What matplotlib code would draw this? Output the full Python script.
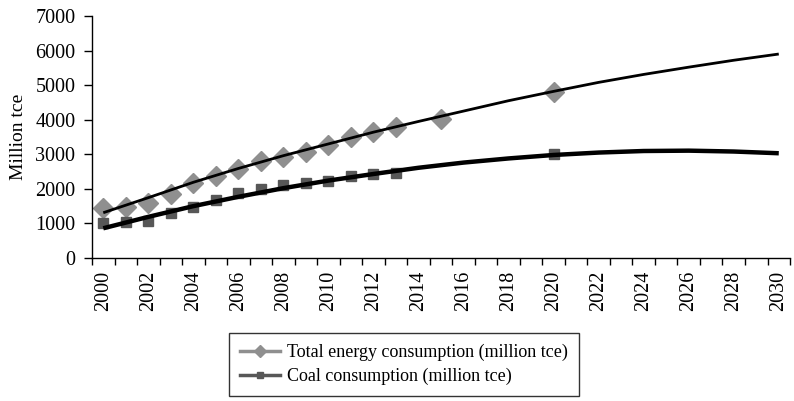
import numpy as np
import matplotlib
matplotlib.use("Agg")
import matplotlib.pyplot as plt
from matplotlib.lines import Line2D

plt.rcParams['font.family'] = ['Liberation Serif', 'DejaVu Serif']

# categories on the x axis
years = list(range(2000, 2031))

# observed points
total_years = [2000, 2001, 2002, 2003, 2004, 2005, 2006, 2007, 2008, 2009,
               2010, 2011, 2012, 2013, 2015, 2020]
total_vals = [1455, 1484, 1582, 1842, 2160, 2381, 2575, 2806, 2930, 3075,
              3269, 3510, 3655, 3780, 4012, 4811]

coal_years = [2000, 2001, 2002, 2003, 2004, 2005, 2006, 2007, 2008, 2009,
              2010, 2011, 2012, 2013, 2020]
coal_vals = [1003, 1032, 1080, 1293, 1466, 1678, 1871, 1996, 2103, 2179,
             2227, 2381, 2421, 2450, 3000]

# trend lines (every two years)
trend_years = list(range(2000, 2031, 2))
total_trend = [1310, 1745, 2190, 2590, 2960, 3300, 3640, 3950,
               4250, 4550, 4820, 5080, 5310, 5520, 5720, 5900]
coal_trend = [860, 1190, 1500, 1770, 2020, 2240, 2430, 2610,
              2760, 2880, 2980, 3050, 3095, 3105, 3080, 3030]

yticks = [0, 1000, 2000, 3000, 4000, 5000, 6000, 7000]

light = '#8f8f8f'
dark = '#575757'

def pos(ys):
    return [years.index(y) for y in ys]

fig = plt.figure(figsize=(7.94, 4.01), dpi=100)
ax = fig.add_axes([0.1159, 0.3566, 0.8791, 0.6035])

ax.plot(pos(total_years), total_vals, ls='none', marker='D', ms=10,
        color=light, zorder=2)
ax.plot(pos(coal_years), coal_vals, ls='none', marker='s', ms=6.5,
        color=dark, zorder=2)
ax.plot(pos(trend_years), total_trend, color='black', lw=2.0, zorder=3,
        solid_capstyle='butt')
ax.plot(pos(trend_years), coal_trend, color='black', lw=3.2, zorder=3,
        solid_capstyle='butt')

ax.set_xlim(-0.5, len(years) - 0.5)
ax.set_ylim(0, 7000)
ax.set_yticks(yticks)
ax.set_yticklabels([str(v) for v in yticks], fontsize=14.5)

ax.set_xticks(range(0, len(years), 2))
ax.set_xticklabels([str(y) for y in years[::2]], rotation=90, fontsize=14.5)
ax.set_xticks(np.arange(-0.5, len(years), 1.0), minor=True)
ax.tick_params(axis='x', which='major', length=0, pad=9)
ax.tick_params(axis='x', which='minor', length=5, width=1, direction='out')
ax.tick_params(axis='y', length=6, width=1, direction='out', pad=6)

for s in ['top', 'right']:
    ax.spines[s].set_visible(False)
for s in ['left', 'bottom']:
    ax.spines[s].set_linewidth(1)

ax.set_ylabel('Million tce', fontsize=14, labelpad=6)

handles = [
    Line2D([], [], color=light, lw=2.5, marker='D', ms=6, markeredgecolor=light),
    Line2D([], [], color=dark, lw=2.5, marker='s', ms=5, markeredgecolor=dark),
]
labels = ['Total energy consumption (million tce)',
          'Coal consumption (million tce)']
leg = fig.legend(handles, labels, loc='center', bbox_to_anchor=(0.509, 0.091),
                 fontsize=13, frameon=True, fancybox=False, edgecolor='black',
                 handlelength=2.2, borderpad=0.6, labelspacing=0.4,
                 handletextpad=0.4)
leg.get_frame().set_linewidth(1)

fig.savefig('out.png', dpi=100)
